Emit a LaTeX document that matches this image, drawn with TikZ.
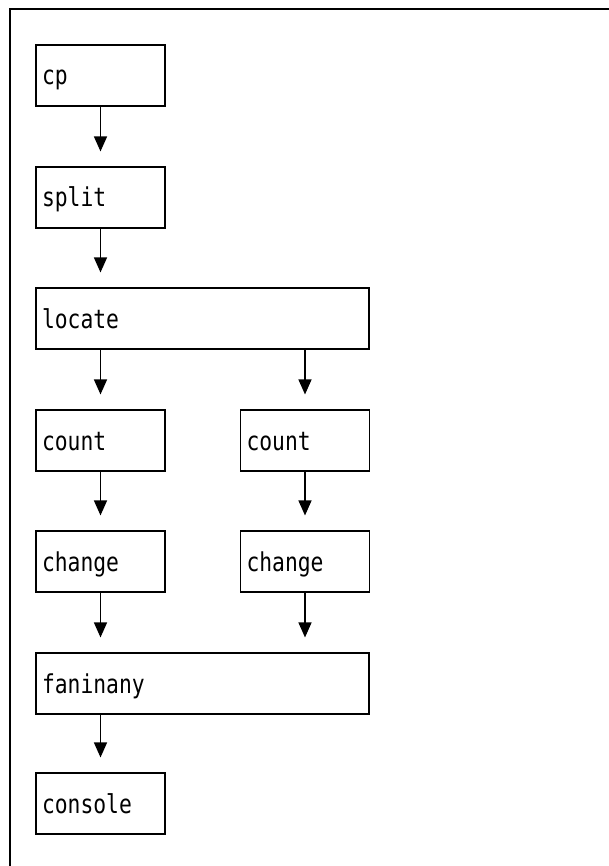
\documentclass[tikz,border=0pt]{standalone}
\usepackage{fontspec}
\newfontfamily\boxfont[FakeStretch=0.82]{DejaVu Sans Mono}
\usetikzlibrary{arrows.meta}
\begin{document}
\begin{tikzpicture}[x=1pt,y=-1pt,
  boxbase/.style={draw, line width=1.1pt, rectangle, minimum height=61pt,
    inner xsep=6pt, inner ysep=0pt, align=left, text height=19pt, text depth=0pt,
    font=\boxfont\fontsize{26}{30}\selectfont},
  smallbox/.style={boxbase, minimum width=129pt, text width=117pt},
  widebox/.style={boxbase, minimum width=333pt, text width=321pt},
  flow/.style={line width=1.3pt, shorten >=15pt, -{Triangle[length=15pt,width=13pt]}}
]
\useasboundingbox (0,0) rectangle (608,866);
\draw[line width=2pt] (10,880) -- (10,9) -- (630,9);

\node[smallbox] (cp)     at (100.5,75.5)  {cp};
\node[smallbox] (split)  at (100.5,197.5) {split};
\node[widebox]  (locate) at (202.5,318.5) {locate};
\node[smallbox] (countA) at (100.5,440.5) {count};
\node[smallbox] (countB) at (305,440.5)   {count};
\node[smallbox] (chgA)   at (100.5,561.5) {change};
\node[smallbox] (chgB)   at (305,561.5)   {change};
\node[widebox]  (fan)    at (202.5,683.5) {faninany};
\node[smallbox] (con)    at (100.5,803.5) {console};

\draw[flow] (cp.south) -- (split.north);
\draw[flow] (split.south) -- (split.south |- locate.north);
\draw[flow] (locate.south -| countA.north) -- (countA.north);
\draw[flow] (locate.south -| countB.north) -- (countB.north);
\draw[flow] (countA.south) -- (chgA.north);
\draw[flow] (countB.south) -- (chgB.north);
\draw[flow] (chgA.south) -- (chgA.south |- fan.north);
\draw[flow] (chgB.south) -- (chgB.south |- fan.north);
\draw[flow] (fan.south -| con.north) -- (con.north);
\end{tikzpicture}
\end{document}
